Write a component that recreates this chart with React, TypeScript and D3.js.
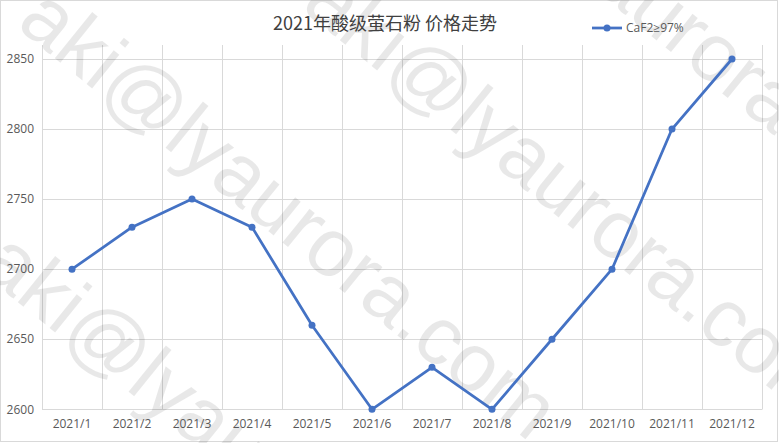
import React from "react";
import * as d3 from "d3";

const categories = ["2021/1","2021/2","2021/3","2021/4","2021/5","2021/6","2021/7","2021/8","2021/9","2021/10","2021/11","2021/12"];
const values = [2700, 2730, 2750, 2730, 2660, 2600, 2630, 2600, 2650, 2700, 2800, 2850];
const yTicks = [2600, 2650, 2700, 2750, 2800, 2850];
const seriesName = "CaF2≥97%";
const title = "2021年酸级萤石粉 价格走势";
const watermark = "aki@lyaurora.com";
const watermarkSpots: [number, number][] = [[15, 26], [300, 8], [-22, 270], [398, -169]];

const W = 779, H = 443;
const LINE = "#4472C4";
const GRID = "#d9d9d9";
const TXT = "#595959";
const LABEL_FONT = "'Open Sans', 'Noto Sans', sans-serif";

export default function App() {
  const x = d3.scaleBand<string>().domain(categories).range([42, 762]).padding(0);
  const y = d3.scaleLinear().domain([2600, 2850]).range([409.3, 59]);
  const cx = (c: string) => (x(c) as number) + x.bandwidth() / 2;
  const line = d3.line<number>().x((_, i) => cx(categories[i])).y((v) => y(v));
  const edges = [...categories.map((c) => x(c) as number), 762];

  return (
    <svg width={W} height={H} style={{ position: "absolute", left: 0, top: 0, background: "#fff" }}>
      <rect x={0} y={0} width={W} height={H} fill="#fff" />
      <rect x={0.5} y={0.5} width={777} height={441} fill="none" stroke={GRID} />
      {yTicks.map((t) => (
        <line key={"h" + t} x1={42} x2={762} y1={Math.round(y(t)) + 0.5} y2={Math.round(y(t)) + 0.5} stroke={GRID} />
      ))}
      {edges.map((e, i) => (
        <line key={"v" + i} x1={Math.round(e) + 0.5} x2={Math.round(e) + 0.5} y1={45} y2={Math.round(y(2600)) + 0.5} stroke={GRID} />
      ))}
      <g fontFamily="'Liberation Sans', Arial, sans-serif" fontSize={82} fill="#000" fillOpacity={0.09}>
        {watermarkSpots.map(([wx, wy], i) => (
          <text key={"w" + i} transform={`translate(${wx},${wy}) rotate(39)`}>{watermark}</text>
        ))}
      </g>
      {yTicks.map((t) => (
        <text key={"yl" + t} x={34} y={y(t)} dy="0.35em" textAnchor="end" fontFamily={LABEL_FONT} fontSize={12} fill={TXT}>{t}</text>
      ))}
      {categories.map((c) => (
        <text key={"xl" + c} x={cx(c)} y={428} textAnchor="middle" fontFamily={LABEL_FONT} fontSize={12} fill={TXT}>{c}</text>
      ))}
      <text x={385} y={30} textAnchor="middle" fontFamily="'Noto Sans CJK SC', sans-serif" fontSize={18} fill="#404040">{title}</text>
      <line x1={592} x2={622} y1={28} y2={28} stroke={LINE} strokeWidth={2.75} />
      <circle cx={607} cy={28} r={3.5} fill={LINE} />
      <text x={626} y={32} fontFamily={LABEL_FONT} fontSize={12} fill={TXT}>{seriesName}</text>
      <path d={line(values) as string} fill="none" stroke={LINE} strokeWidth={2.75} strokeLinejoin="round" />
      {values.map((v, i) => (
        <circle key={"p" + i} cx={cx(categories[i])} cy={y(v)} r={3.5} fill={LINE} />
      ))}
    </svg>
  );
}
